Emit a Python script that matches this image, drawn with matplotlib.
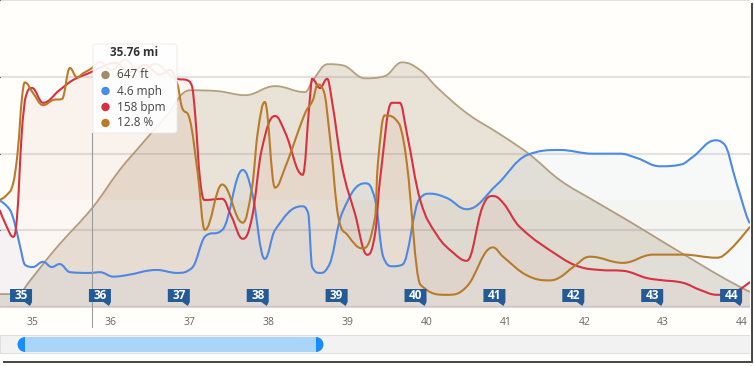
import matplotlib
matplotlib.use("Agg")
import matplotlib.pyplot as plt
import matplotlib.transforms as mtransforms
from matplotlib.lines import Line2D
from matplotlib.path import Path
from matplotlib.patches import Circle, FancyBboxPatch, PathPatch, Polygon, Rectangle, Wedge
from matplotlib.ticker import MultipleLocator

plt.rcParams["font.family"] = ["Open Sans", "DejaVu Sans"]

# ---- values (distance in miles) -------------------------------------------
elev_mi = [34.59, 34.82, 34.97, 35.16, 35.35, 35.77, 36.11, 36.37, 36.69, 37.00,
           37.36, 37.70, 38.08, 38.46, 38.56, 38.75, 38.93, 39.22, 39.47, 39.69,
           39.92, 40.13, 40.51, 40.89, 41.18, 41.35, 41.69, 42.11, 42.54, 42.96,
           43.38, 43.81, 44.10]
elev_ft = [84, 84, 169, 293, 410, 650, 892, 1049, 1237, 1412,
           1406, 1380, 1439, 1400, 1478, 1582, 1575, 1490, 1504, 1594,
           1543, 1432, 1263, 1139, 1041, 976, 827, 696, 567, 436,
           306, 176, 98]

speed_mi = [34.59, 34.72, 34.78, 34.85, 34.91, 35.01, 35.14, 35.25, 35.35, 35.48,
            35.73, 35.86, 36.03, 36.20, 36.58, 36.84, 37.03, 37.19, 37.41, 37.67,
            37.79, 37.95, 38.08, 38.42, 38.50, 38.55, 38.65, 38.75, 38.93, 39.22,
            39.35, 39.45, 39.57, 39.69, 39.92, 40.04, 40.26, 40.51, 40.89, 41.27,
            41.69, 42.11, 42.45, 42.67, 42.96, 43.25, 43.38, 43.66, 43.76, 43.93,
            44.06, 44.10]
speed_mph = [14.4, 13.1, 11.3, 8.1, 5.7, 5.4, 6.1, 5.4, 5.8, 4.7,
             4.6, 4.7, 4.1, 4.3, 5.0, 4.6, 5.3, 9.5, 10.4, 18.5,
             15.4, 6.5, 10.4, 13.6, 12.7, 5.4, 4.6, 5.4, 12.7, 16.7,
             14.4, 6.8, 5.5, 5.7, 14.7, 15.3, 14.7, 13.2, 16.5, 20.5,
             21.2, 20.7, 20.7, 20.1, 19.0, 19.3, 20.3, 22.5, 22.1, 16.7,
             12.2, 11.3]

hr_mi = [34.59, 34.68, 34.76, 34.81, 34.87, 34.91, 35.00, 35.14, 35.35, 35.52,
         35.73, 35.86, 36.05, 36.24, 36.43, 36.62, 36.75, 36.84, 36.96, 37.03,
         37.07, 37.13, 37.19, 37.41, 37.53, 37.67, 37.79, 37.91, 38.08, 38.21,
         38.43, 38.52, 38.55, 38.65, 38.74, 38.80, 38.93, 39.09, 39.25, 39.35,
         39.41, 39.56, 39.66, 39.75, 39.92, 40.13, 40.34, 40.51, 40.71, 40.84,
         40.97, 41.18, 41.69, 41.94, 42.20, 42.49, 42.79, 42.96, 43.25, 43.47,
         43.68, 43.88, 44.10]
hr_bpm = [123.5, 119.3, 116.8, 121.8, 142.8, 151.0, 154.0, 150.3, 153.5, 156.0,
          157.8, 159.0, 160.3, 158.0, 159.8, 157.3, 158.5, 156.3, 156.0, 154.3,
          146.8, 131.0, 126.0, 126.3, 121.8, 116.3, 121.8, 138.5, 147.0, 142.8,
          132.3, 151.0, 156.3, 154.0, 156.3, 151.0, 134.3, 122.8, 112.3, 117.8,
          131.0, 150.3, 150.3, 142.8, 126.0, 117.3, 112.8, 110.8, 124.3, 127.0,
          125.3, 119.3, 111.8, 109.3, 108.5, 108.3, 106.5, 106.0, 105.3, 103.5,
          102.3, 102.8, 105.5]

grade_mi = [34.59, 34.68, 34.76, 34.82, 34.87, 34.91, 35.01, 35.14, 35.27, 35.38,
            35.48, 35.57, 35.65, 35.76, 35.86, 36.01, 36.18, 36.37, 36.56, 36.75,
            36.84, 36.90, 37.00, 37.10, 37.19, 37.41, 37.67, 37.79, 37.86, 37.95,
            38.08, 38.21, 38.46, 38.56, 38.62, 38.69, 38.78, 38.88, 39.00, 39.19,
            39.35, 39.38, 39.47, 39.66, 39.75, 39.92, 40.26, 40.51, 40.84, 40.97,
            41.27, 41.56, 41.69, 41.86, 42.07, 42.49, 42.87, 43.25, 43.68, 43.85,
            44.10]
grade_pct = [0.0, 0.5, 1.6, 4.8, 9.7, 11.4, 10.4, 9.2, 9.7, 9.8,
             12.8, 11.9, 12.3, 12.8, 13.4, 12.6, 13.6, 12.4, 13.2, 12.1,
             11.3, 9.0, 7.8, 2.6, -2.9, 1.5, -2.2, 1.3, 6.5, 9.5,
             1.2, 3.2, 8.4, 9.7, 11.2, 10.7, 5.8, -1.6, -3.4, -4.7,
             -1.6, 3.2, 8.2, 7.3, 3.6, -8.2, -9.2, -8.4, -4.6, -5.5,
             -7.3, -7.8, -7.5, -6.5, -5.5, -6.1, -5.3, -5.3, -5.6, -4.8,
             -2.6]

mile_markers = [35, 36, 37, 38, 39, 40, 41, 42, 43, 44]
cursor_mi = 35.76
tooltip_title = "35.76 mi"
tooltip_rows = ["647 ft", "4.6 mph", "158 bpm", "12.8 %"]

ELEV_LINE = "#b5a07f"
ELEV_FILL = "#a08a6a"
SPEED_C = "#4a8be8"
HR_C = "#d9303f"
GRADE_C = "#b87b2a"
DOT_COLORS = ["#a48a68", SPEED_C, HR_C, GRADE_C]
BG = "#fffefa"

W, H = 754, 366          # output size in px
PLOT_W, PLOT_H = 750, 307


def spline(xs, ys, smoothing=1.5):
    """Bezier path through the points, same control-point rule as a Highcharts spline."""
    n = len(xs)
    lc, rc = [None] * n, [None] * n
    lc[0] = rc[0] = (xs[0], ys[0])
    lc[-1] = rc[-1] = (xs[-1], ys[-1])
    d = smoothing + 1
    for i in range(1, n - 1):
        x, y = xs[i], ys[i]
        px, py, nx, ny = xs[i - 1], ys[i - 1], xs[i + 1], ys[i + 1]
        lx, ly = (smoothing * x + px) / d, (smoothing * y + py) / d
        rx, ry = (smoothing * x + nx) / d, (smoothing * y + ny) / d
        if rx != lx:
            corr = (ry - ly) * (rx - x) / (rx - lx) + y - ry
            ly += corr
            ry += corr
        if ly > py and ly > y:
            ly = max(py, y); ry = 2 * y - ly
        elif ly < py and ly < y:
            ly = min(py, y); ry = 2 * y - ly
        if ry > ny and ry > y:
            ry = max(ny, y); ly = 2 * y - ry
        elif ry < ny and ry < y:
            ry = min(ny, y); ly = 2 * y - ry
        lc[i], rc[i] = (lx, ly), (rx, ry)
    verts, codes = [(xs[0], ys[0])], [Path.MOVETO]
    for i in range(1, n):
        verts += [rc[i - 1], lc[i], (xs[i], ys[i])]
        codes += [Path.CURVE4] * 3
    return verts, codes


def area(a, xs, ys, base, color, fill_alpha, lw):
    verts, codes = spline(xs, ys)
    a.add_patch(PathPatch(Path(verts + [(xs[-1], base), (xs[0], base), (xs[0], ys[0])],
                               codes + [Path.LINETO, Path.LINETO, Path.CLOSEPOLY]),
                          fc=color, alpha=fill_alpha, lw=0))
    a.add_patch(PathPatch(Path(verts, codes), fc="none", ec=color, lw=lw))


fig = plt.figure(figsize=(W / 100, H / 100), dpi=100, facecolor=BG)
ax = fig.add_axes([0, 1 - PLOT_H / H, PLOT_W / W, PLOT_H / H])
ax.set_facecolor(BG)
ax.set_xlim(34.594, 44.10)
ax.set_ylim(0, 2000)
ax.yaxis.set_major_locator(MultipleLocator(500))
ax.grid(axis="y", color="#e2e2e2", lw=1.5)
ax.set_axisbelow(True)
ax.tick_params(axis="y", left=False, labelleft=False)
ax.set_xticks(mile_markers)
ax.tick_params(axis="x", length=0, pad=7, labelsize=7.5, labelcolor="#666666")
for side in ("top", "left", "right"):
    ax.spines[side].set_visible(False)
ax.spines["bottom"].set_color("#d8d8d8")

# elevation profile
verts, codes = spline(elev_mi, elev_ft)
ax.add_patch(PathPatch(Path(verts + [(elev_mi[-1], 0), (elev_mi[0], 0), (elev_mi[0], elev_ft[0])],
                            codes + [Path.LINETO, Path.LINETO, Path.CLOSEPOLY]),
                       fc=ELEV_FILL, alpha=0.24, lw=0))
ax.add_patch(PathPatch(Path(verts, codes), fc="none", ec=ELEV_LINE, lw=1.3))


def overlay(lo, hi):
    a = ax.twinx()
    a.set_ylim(lo, hi)
    a.axis("off")
    return a


ax_speed = overlay(0, 41.45)
area(ax_speed, speed_mi, speed_mph, 0, SPEED_C, 0.04, 1.5)

ax_hr = overlay(99.25, 176)
area(ax_hr, hr_mi, hr_bpm, 99.25, HR_C, 0.03, 1.5)

ax_grade = overlay(-10.38, 19.4)
area(ax_grade, grade_mi, grade_pct, 0, GRADE_C, 0.04, 1.5)

# ---- chrome: mile flags, crosshair, tooltip -------------------------------
blended = mtransforms.blended_transform_factory(ax.transData, ax.transAxes)


def anchored(x_mi, y_ax):
    # offsets in inches from a (data x, axes y) anchor
    return fig.dpi_scale_trans + mtransforms.ScaledTranslation(x_mi, y_ax, blended)


for m in mile_markers:
    tr = anchored(m, 0)
    flag = Polygon([(-0.22, 0.05), (-0.22, 0.18), (0, 0.18), (0, 0.05),
                    (-0.02, 0.01), (-0.075, 0.05)],
                   closed=True, transform=tr, fc="#245a96", ec="none", zorder=4)
    fig.add_artist(flag)
    fig.text(-0.11, 0.113, str(m), transform=tr, ha="center", va="center",
             color="white", fontsize=8.5, fontweight="bold", zorder=5)

fig.add_artist(Line2D([cursor_mi, cursor_mi], [1 - 133 / PLOT_H, -20 / PLOT_H],
                      transform=blended, color="#9c9c9c", lw=0.8, zorder=1.5))

tip = anchored(cursor_mi, 1)
fig.add_artist(FancyBboxPatch((0.01, -1.33), 0.84, 0.89,
                              boxstyle="round,pad=0,rounding_size=0.03",
                              transform=tip, fc="white", ec="#e8e8e8", lw=0.6,
                              alpha=0.9, zorder=6))
fig.text(0.42, -0.53, tooltip_title, transform=tip, ha="center", va="center",
         fontsize=8.5, fontweight="bold", color="#333333", zorder=7)
for i, (label, col) in enumerate(zip(tooltip_rows, DOT_COLORS)):
    y = -0.75 - 0.16 * i
    fig.add_artist(Circle((0.135, y), 0.035, transform=tip, color=col, zorder=7))
    fig.text(0.25, y, label, transform=tip, ha="left", va="center",
             fontsize=8.5, color="#444444", zorder=7)

# navigator scrollbar
inch = fig.dpi_scale_trans
fig.add_artist(Rectangle((0, (H - 353) / 100), PLOT_W / 100, 0.18, transform=inch,
                         fc="#f2f2f2", ec="#e0e0e0", lw=0.8, zorder=1))
fig.add_artist(Rectangle((0.25, (H - 352) / 100), 2.91, 0.15, transform=inch,
                         fc="#a9d5f8", ec="none", zorder=2))
yc = (H - 344.5) / 100
fig.add_artist(Wedge((0.25, yc), 0.075, 90, 270, transform=inch, fc="#1a8cff", zorder=3))
fig.add_artist(Wedge((3.16, yc), 0.075, 270, 90, transform=inch, fc="#1a8cff", zorder=3))

# screenshot drop shadow
fig.add_artist(Rectangle((0, 0), W / 100, 0.06, transform=inch, fc="white", ec="none", zorder=8))
fig.add_artist(Rectangle((7.50, 0), 0.04, H / 100, transform=inch, fc="white", ec="none", zorder=8))
fig.add_artist(Rectangle((7.505, 0.03), 0.025, 3.60, transform=inch, fc="#4a4a4a", ec="none", zorder=9))
fig.add_artist(Rectangle((0.03, 0.03), 7.50, 0.025, transform=inch, fc="#4a4a4a", ec="none", zorder=9))

fig.savefig("out.png", dpi=100, facecolor=fig.get_facecolor())
